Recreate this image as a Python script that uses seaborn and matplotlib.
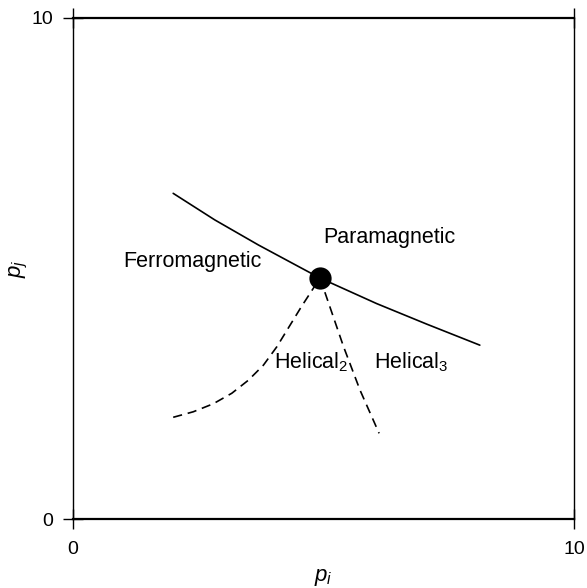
import numpy as np
import pandas as pd
import matplotlib
matplotlib.use("Agg")
import matplotlib.pyplot as plt
import seaborn as sns

# boundary between ferro- and paramagnetic phase (solid)
solid_x = [2.00, 2.83, 3.70, 4.50, 4.93, 6.06, 7.06, 8.12]
solid_y = [6.50, 5.97, 5.47, 5.04, 4.81, 4.30, 3.89, 3.47]

# helical2 boundary (dashed, left branch)
hel2_x = [2.00, 2.40, 2.80, 3.17, 3.50, 3.80, 4.07, 4.56, 4.93]
hel2_y = [2.03, 2.14, 2.30, 2.51, 2.77, 3.07, 3.44, 4.24, 4.81]

# helical3 boundary (dashed, right branch)
hel3_x = [4.93, 5.40, 5.73, 6.11]
hel3_y = [4.81, 3.44, 2.57, 1.71]

# multicritical point
point_x = [4.93]
point_y = [4.81]

labels = ["Ferromagnetic", "Paramagnetic", "Helical$_2$", "Helical$_3$"]
label_x = [2.38, 6.31, 4.75, 6.76]
label_y = [5.13, 5.61, 3.13, 3.13]

sns.set_style("ticks")
plt.rcParams["font.family"] = ["Liberation Sans", "DejaVu Sans"]
plt.rcParams["mathtext.fontset"] = "custom"
plt.rcParams["mathtext.rm"] = "Liberation Sans"
plt.rcParams["mathtext.it"] = "Liberation Sans:italic"
plt.rcParams["text.color"] = "black"
plt.rcParams["axes.labelcolor"] = "black"
plt.rcParams["xtick.color"] = "black"
plt.rcParams["ytick.color"] = "black"

fig = plt.figure(figsize=(5.87, 5.88), dpi=100)
ax = fig.add_axes([73 / 587, 1 - 519 / 588, 501 / 587, 501 / 588])

solid_df = pd.DataFrame({"x": solid_x, "y": solid_y})
hel2_df = pd.DataFrame({"x": hel2_x, "y": hel2_y})
hel3_df = pd.DataFrame({"x": hel3_x, "y": hel3_y})

dash = (0, (5.5, 3.5))
sns.lineplot(data=solid_df, x="x", y="y", sort=False, color="black", lw=1.2, ax=ax)
sns.lineplot(data=hel2_df, x="x", y="y", sort=False, color="black", lw=1.2,
             linestyle=dash, ax=ax)
sns.lineplot(data=hel3_df, x="x", y="y", sort=False, color="black", lw=1.2,
             linestyle=dash, ax=ax)
sns.scatterplot(x=point_x, y=point_y, s=220, color="black", edgecolor="black",
                zorder=5, ax=ax)

for txt, tx, ty in zip(labels, label_x, label_y):
    ax.text(tx, ty, txt, fontsize=15.5, ha="center", va="center", color="black")

ax.set_xlim(0, 10)
ax.set_ylim(0, 10)
ax.set_xticks([0, 10])
ax.set_yticks([0, 10])
ax.tick_params(axis="x", direction="inout", length=14, width=1, labelsize=14,
               top=True, bottom=True, pad=9, color="black", labelcolor="black")
ax.tick_params(axis="y", direction="inout", length=14, width=1, labelsize=14,
               left=True, right=False, pad=7, color="black", labelcolor="black")
ax.set_xlabel("$p_i$", fontsize=16, labelpad=6)
ax.set_ylabel("$p_j$", fontsize=16, labelpad=1)

for side in ["top", "bottom"]:
    ax.spines[side].set_linewidth(1.6)
for side in ["left", "right"]:
    ax.spines[side].set_linewidth(1.0)
for sp in ax.spines.values():
    sp.set_color("black")
    sp.set_visible(True)

fig.savefig("out.png", dpi=100)
